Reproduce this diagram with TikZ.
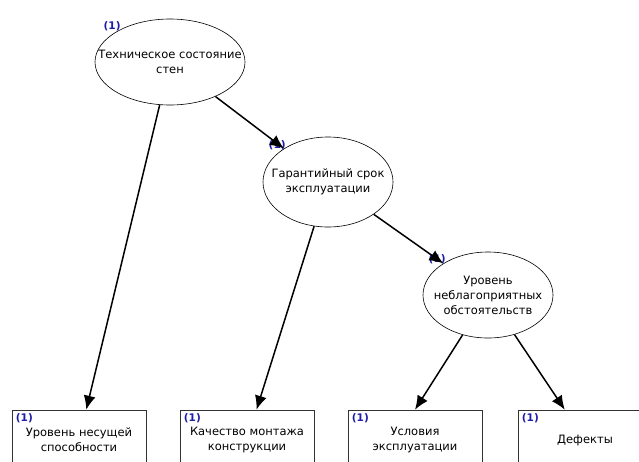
\documentclass[tikz,border=0pt]{standalone}
\usepackage{fontspec}
\setmainfont{DejaVu Sans}
\usepackage{tikz}
\usetikzlibrary{shapes.geometric,arrows.meta}
\definecolor{numblue}{RGB}{30,30,170}

\begin{document}
\begin{tikzpicture}[x=1pt,y=-1pt,font=\fontsize{11.5}{15}\selectfont,
    num/.style={font=\fontsize{10.5}{11}\selectfont\bfseries,text=numblue,inner sep=1pt},
    state/.style={ellipse,draw,semithick,align=center,inner xsep=-40pt,inner ysep=0pt,minimum width=150pt,minimum height=86pt,
      label={[num,anchor=south east,xshift=5pt,yshift=-1pt]north west:(1)}},
    leaf/.style={rectangle,draw=black!80,semithick,align=center,inner sep=0pt,minimum width=134pt,minimum height=60pt,
      label={[num,anchor=north west,xshift=3pt,yshift=-3pt]north west:(1)}},
    arr/.style={-{Latex[length=14pt,width=12pt]},line width=1.5pt}]
  \clip (0,0) rectangle (639,461);
  \node[state] (tech) at (170,62) {Техническое состояние\\стен};
  \node[state,minimum width=130pt,minimum height=90pt] (warr) at (328,182) {Гарантийный срок\\эксплуатации};
  \node[state,minimum width=130pt,minimum height=86pt] (adv) at (488,295) {Уровень\\неблагоприятных\\обстоятельств};

  \node[leaf] (load) at (79,440) {Уровень несущей\\способности};
  \node[leaf] (mount) at (247,440) {Качество монтажа\\конструкции};
  \node[leaf] (oper) at (415,440) {Условия\\эксплуатации};
  \node[leaf] (defect) at (585,440) {Дефекты};

  \path[arr]
  (tech) edge (load)
         edge (warr)
  (warr) edge (mount)
         edge (adv)
  (adv)  edge (oper.north)
         edge (defect)
  ;
\end{tikzpicture}
\end{document}
